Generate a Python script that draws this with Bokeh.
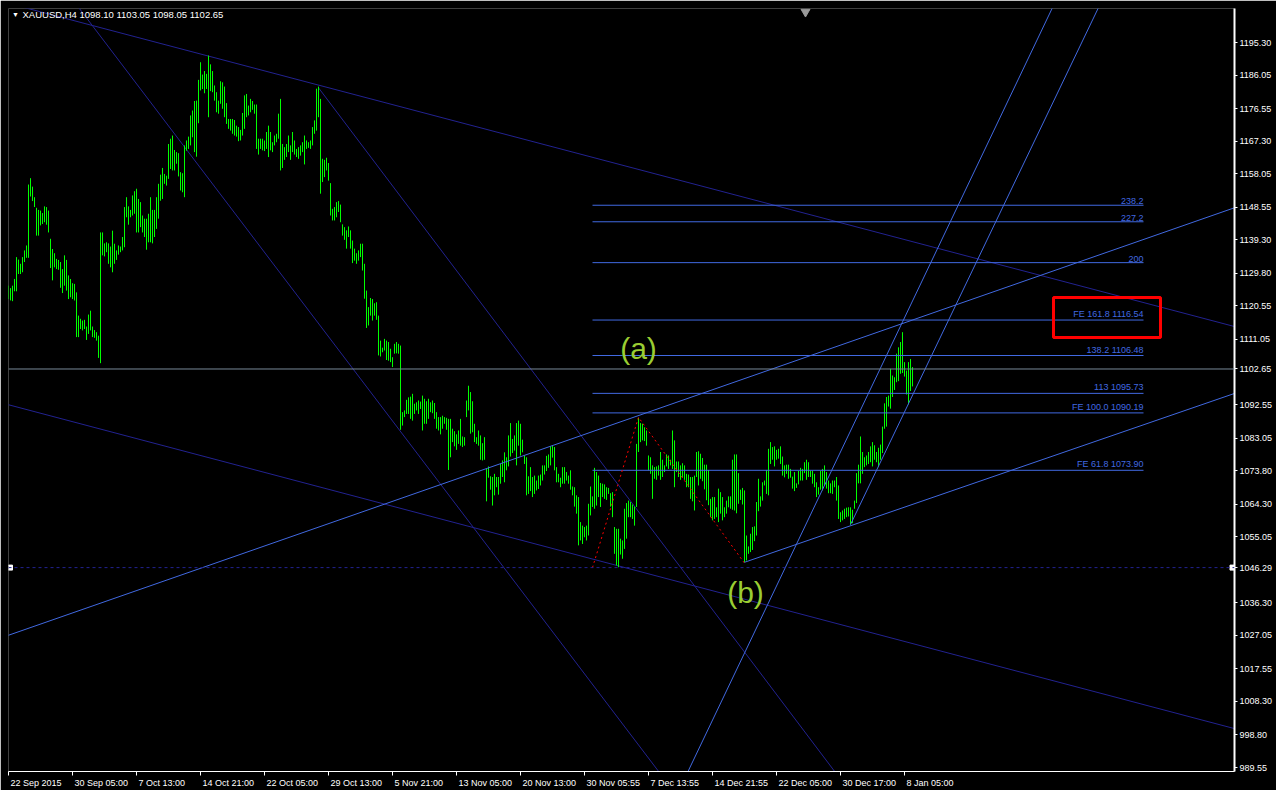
from bokeh.plotting import figure
from bokeh.models import (Range1d, FixedTicker, Label, NumeralTickFormatter, ColumnDataSource,
                          Span, LinearAxis)
from bokeh.embed import file_html
from bokeh.resources import INLINE

# ---------------- data ----------------
symbol = "XAUUSD,H4"
last_ohlc = [1098.10, 1103.05, 1098.05, 1102.65]
bid_price = 1102.65
marked_price = 1046.29

highs = [
    1126.3, 1125.6, 1126.3, 1128.2, 1134.4, 1133.7, 1132.5, 1134.4, 1136.3, 1137.7,
    1155.0, 1156.8, 1154.4, 1151.4, 1148.4, 1147.8, 1147.6, 1146.9, 1148.8, 1148.6,
    1147.6, 1139.6, 1136.7, 1135.5, 1133.9, 1133.6, 1133.0, 1131.0, 1134.9, 1133.6,
    1129.2, 1128.2, 1127.0, 1126.8, 1124.4, 1117.8, 1116.9, 1116.4, 1116.6, 1114.7,
    1118.1, 1119.2, 1114.7, 1113.7, 1113.1, 1112.1, 1141.4, 1141.4, 1138.3, 1138.6,
    1138.3, 1137.4, 1141.9, 1138.2, 1136.3, 1137.7, 1137.4, 1140.1, 1148.6, 1151.4,
    1148.8, 1147.8, 1151.9, 1153.1, 1153.8, 1150.9, 1150.0, 1146.2, 1145.3, 1145.3,
    1146.7, 1151.4, 1147.8, 1147.8, 1151.4, 1155.2, 1157.8, 1159.7, 1158.0, 1157.5,
    1166.5, 1168.0, 1168.9, 1164.8, 1164.2, 1163.9, 1158.5, 1158.2, 1166.1, 1167.5,
    1168.6, 1174.6, 1176.0, 1178.7, 1178.8, 1184.7, 1189.7, 1186.2, 1187.2, 1186.4,
    1191.6, 1189.1, 1187.2, 1183.1, 1181.2, 1178.8, 1184.3, 1184.0, 1182.8, 1178.1,
    1173.6, 1173.6, 1173.6, 1173.3, 1171.7, 1171.3,
    1170.5, 1175.3, 1180.3, 1180.7,
    1177.4, 1179.3, 1178.7, 1177.7, 1177.7, 1168.0, 1168.0, 1168.0, 1167.5, 1169.9,
    1171.7, 1169.9, 1167.0, 1168.9, 1169.4, 1175.1, 1179.3, 1166.5, 1165.6, 1166.5,
    1168.9, 1166.1, 1169.9, 1167.5, 1165.1, 1165.6, 1166.1, 1167.0, 1168.9, 1167.5,
    1167.0, 1167.5, 1171.3, 1173.2, 1182.2, 1182.8, 1179.3, 1162.3, 1162.0, 1162.6,
    1161.1, 1155.4, 1148.1, 1148.6, 1150.0, 1150.3, 1149.3, 1143.7, 1142.9, 1142.0,
    1143.1, 1142.0, 1139.1, 1136.8, 1135.5, 1136.3, 1138.2, 1138.2, 1132.5, 1124.9,
    1120.2, 1122.8, 1122.5, 1121.3, 1121.6, 1117.8, 1110.7, 1108.7, 1111.2, 1110.7,
    1110.3, 1108.4, 1106.0, 1109.8, 1110.3, 1109.8, 1109.3, 1090.4, 1090.9, 1093.9,
    1094.6, 1094.8, 1095.6, 1092.8, 1093.2, 1093.7, 1093.4, 1095.1, 1094.2, 1093.5,
    1094.2, 1093.2, 1093.7, 1093.0, 1090.4, 1089.0, 1089.0, 1089.4, 1089.0, 1088.8,
    1088.5, 1088.5, 1085.7, 1085.0, 1084.1, 1085.2, 1088.5, 1083.5, 1083.3, 1093.7, 1097.9,
    1096.1, 1093.5, 1087.1, 1083.3, 1085.2, 1083.8, 1081.6, 1083.3, 1074.3, 1075.0,
    1072.2, 1072.0, 1072.9, 1072.0, 1072.0, 1075.7, 1076.7, 1079.0, 1077.6, 1083.8,
    1087.3, 1082.8, 1083.8, 1087.3, 1088.0, 1087.1, 1082.6, 1078.1, 1077.6, 1072.2,
    1074.8, 1072.0, 1072.4, 1071.0, 1072.4, 1072.7, 1075.3, 1075.3, 1078.0, 1078.4,
    1080.7, 1080.9, 1080.5, 1074.8, 1072.9, 1071.8, 1074.8, 1074.8, 1073.4, 1072.4,
    1073.9, 1069.3, 1069.1, 1066.8, 1066.3, 1059.2, 1058.2, 1057.8, 1058.2, 1064.4,
    1069.3, 1066.5, 1074.6, 1073.4, 1072.4, 1070.3, 1070.1, 1069.9, 1069.1, 1068.9,
    1067.4, 1067.7, 1057.8, 1057.3, 1057.3, 1054.5, 1054.0, 1063.0, 1064.6, 1065.3,
    1064.9, 1064.2, 1063.6, 1081.4, 1088.8, 1087.3, 1087.1, 1086.1, 1085.2, 1078.1,
    1077.6, 1075.3, 1074.8, 1075.0, 1075.3, 1079.1, 1076.9, 1075.3, 1078.4, 1078.1,
    1076.9, 1085.2, 1082.4, 1076.4, 1076.4, 1075.3, 1075.9, 1075.3, 1072.9, 1072.7,
    1072.0, 1072.0, 1072.4, 1079.1, 1079.3, 1078.6, 1077.4, 1075.5, 1075.5, 1074.0,
    1065.8, 1066.3, 1066.3, 1063.4, 1068.7, 1067.7, 1066.3, 1063.4, 1065.3, 1066.5,
    1066.5, 1076.9, 1078.4, 1078.4, 1073.1, 1068.4, 1068.9, 1068.2, 1055.4, 1052.3,
    1055.9, 1057.8, 1058.0, 1064.9, 1071.5, 1066.5, 1070.5, 1071.0, 1074.0, 1080.0,
    1081.9, 1080.5, 1080.7, 1079.7, 1080.0, 1080.7, 1077.8, 1075.3, 1075.5, 1075.5,
    1074.3, 1072.1, 1073.4, 1070.2, 1073.7, 1074.6, 1074.3, 1076.2, 1076.9, 1076.2,
    1073.8, 1073.8, 1072.9, 1070.5, 1069.1, 1073.7, 1074.3, 1075.3, 1073.4, 1071.0,
    1070.2, 1071.0, 1071.0, 1072.0, 1069.6, 1062.0, 1062.5, 1063.0, 1063.3, 1063.4,
    1063.4, 1062.7, 1065.3, 1073.1, 1075.5, 1083.5, 1079.1, 1077.6, 1078.1, 1079.1,
    1080.7, 1081.9, 1081.0, 1079.1, 1080.3, 1081.2, 1086.3, 1092.9, 1094.7, 1095.1,
    1102.7, 1100.8, 1100.3, 1107.0, 1108.8, 1110.3, 1113.1, 1104.6, 1102.2, 1104.6, 1105.5, 1103.2,
]

lows = [
    1122.5, 1122.1, 1121.9, 1124.7, 1124.7, 1129.6, 1129.6, 1130.1, 1133.0, 1134.2,
    1134.2, 1151.6, 1150.3, 1148.6, 1140.5, 1140.5, 1143.4, 1143.8, 1144.3, 1143.6,
    1141.4, 1131.3, 1127.8, 1131.5, 1131.0, 1130.8, 1125.7, 1124.2, 1126.3, 1124.9,
    1122.5, 1123.0, 1122.5, 1122.1, 1111.7, 1111.7, 1114.0, 1113.6, 1114.0, 1110.9,
    1112.6, 1113.6, 1111.7, 1111.5, 1110.7, 1105.8, 1104.3, 1134.9, 1134.6, 1135.8,
    1132.5, 1131.5, 1130.1, 1132.5, 1133.6, 1135.1, 1135.8, 1136.3, 1137.2, 1145.7,
    1143.6, 1145.7, 1146.2, 1146.7, 1141.4, 1141.4, 1142.9, 1141.4, 1140.1, 1136.5,
    1138.6, 1138.6, 1138.3, 1140.1, 1142.4, 1145.3, 1150.4, 1150.9, 1155.2, 1154.7,
    1156.6, 1159.4, 1159.0, 1159.0, 1160.9, 1157.3, 1153.3, 1152.8, 1151.4, 1164.6,
    1165.1, 1166.1, 1168.4, 1164.2, 1162.9, 1172.4, 1181.7, 1182.1, 1180.9, 1182.1,
    1174.1, 1181.5, 1181.2, 1178.8, 1175.5, 1175.1, 1177.9, 1176.5, 1174.1, 1172.2,
    1170.8, 1170.3, 1169.4, 1168.9, 1168.6, 1167.3,
    1167.5, 1168.9, 1170.8, 1174.1,
    1174.6, 1175.5, 1176.2, 1175.1, 1165.1, 1163.5, 1165.1, 1164.7, 1164.5, 1165.1,
    1162.8, 1164.7, 1164.2, 1166.1, 1167.0, 1168.0, 1159.0, 1159.7, 1162.0, 1162.8,
    1164.2, 1162.0, 1164.2, 1163.5, 1162.8, 1162.3, 1163.2, 1164.2, 1160.7, 1165.1,
    1165.4, 1165.1, 1166.1, 1169.4, 1170.3, 1174.1, 1152.4, 1155.7, 1157.1, 1159.0,
    1156.1, 1146.2, 1144.8, 1144.8, 1145.7, 1147.2, 1144.3, 1140.5, 1139.3, 1136.8,
    1140.1, 1136.8, 1132.7, 1133.4, 1132.5, 1133.4, 1134.4, 1130.6, 1122.6, 1114.3,
    1115.0, 1117.8, 1116.4, 1117.8, 1116.6, 1106.5, 1106.2, 1107.4, 1107.9, 1105.2,
    1105.0, 1104.6, 1103.2, 1107.0, 1107.1, 1107.0, 1085.4, 1086.6, 1089.0, 1089.9,
    1089.9, 1088.5, 1088.0, 1089.9, 1090.9, 1089.9, 1091.3, 1085.2, 1087.1, 1087.1,
    1088.5, 1090.4, 1090.1, 1088.5, 1085.7, 1085.2, 1084.1, 1085.7, 1087.1, 1085.4,
    1074.0, 1077.6, 1081.9, 1080.7, 1079.7, 1081.4, 1080.9, 1080.5, 1080.9, 1089.0, 1090.9,
    1084.3, 1084.7, 1081.9, 1081.4, 1080.9, 1076.9, 1076.7, 1076.9, 1065.1, 1071.8,
    1068.4, 1063.9, 1066.8, 1069.1, 1067.0, 1070.1, 1072.0, 1070.5, 1073.9, 1075.0,
    1077.8, 1078.8, 1079.5, 1075.3, 1080.9, 1078.1, 1079.0, 1075.7, 1066.8, 1067.2,
    1068.0, 1066.3, 1067.2, 1068.2, 1068.6, 1069.6, 1071.0, 1072.7, 1073.7, 1074.6,
    1075.3, 1077.5, 1073.9, 1070.5, 1070.5, 1069.1, 1070.1, 1070.1, 1071.0, 1070.1,
    1068.4, 1066.8, 1063.6, 1061.6, 1052.6, 1054.0, 1053.0, 1054.9, 1054.0, 1055.4,
    1061.1, 1063.5, 1063.0, 1063.9, 1066.3, 1063.5, 1066.3, 1065.8, 1065.5, 1067.2,
    1063.6, 1060.6, 1050.2, 1046.9, 1046.4, 1050.0, 1048.8, 1051.6, 1054.5, 1060.6,
    1060.6, 1060.1, 1058.2, 1063.5, 1079.1, 1081.9, 1082.4, 1082.2, 1080.9, 1073.9,
    1072.9, 1065.8, 1071.5, 1071.2, 1072.4, 1071.2, 1072.0, 1073.4, 1075.0, 1074.3,
    1075.3, 1074.3, 1069.1, 1073.4, 1072.0, 1071.2, 1071.8, 1071.2, 1069.1, 1069.1,
    1065.8, 1065.1, 1062.5, 1072.0, 1069.6, 1071.5, 1070.8, 1068.5, 1065.4, 1064.0,
    1060.6, 1059.7, 1060.1, 1060.6, 1059.2, 1061.6, 1059.7, 1060.6, 1061.6, 1063.4,
    1063.0, 1062.7, 1062.5, 1061.7, 1064.4, 1065.5, 1064.2, 1047.8, 1048.3, 1050.2,
    1050.7, 1051.3, 1053.8, 1055.4, 1062.3, 1063.6, 1065.3, 1069.6, 1067.2, 1066.8,
    1075.7, 1076.9, 1075.0, 1076.9, 1077.2, 1075.7, 1072.4, 1071.9, 1072.9, 1071.5,
    1071.8, 1068.7, 1068.0, 1068.9, 1069.9, 1071.0, 1071.0, 1073.1, 1071.2, 1072.0,
    1072.0, 1070.1, 1069.1, 1066.3, 1067.0, 1068.4, 1068.2, 1069.6, 1068.7, 1067.4,
    1067.4, 1067.2, 1069.1, 1065.3, 1060.1, 1059.2, 1059.7, 1060.1, 1060.6, 1060.8,
    1058.5, 1058.9, 1063.0, 1064.6, 1070.2, 1070.2, 1072.9, 1074.8, 1075.3, 1075.7,
    1076.2, 1075.0, 1076.9, 1076.2, 1074.8, 1076.9, 1078.8, 1085.7, 1086.3, 1092.0,
    1091.4, 1094.7, 1096.7, 1098.9, 1099.2, 1101.3, 1101.5, 1100.5, 1095.4, 1092.6, 1096.4, 1097.7,
]

date_ticks = [0, 32, 64, 96, 128, 160, 192, 224, 256, 288, 320, 352, 384, 416, 448]
date_labels = ["22 Sep 2015", "30 Sep 05:00", "7 Oct 13:00", "14 Oct 21:00", "22 Oct 05:00",
               "29 Oct 13:00", "5 Nov 21:00", "13 Nov 05:00", "20 Nov 13:00", "30 Nov 05:55",
               "7 Dec 13:55", "14 Dec 21:55", "22 Dec 05:00", "30 Dec 17:00", "8 Jan 05:00"]
price_ticks = [1195.30, 1186.05, 1176.55, 1167.30, 1158.05, 1148.55, 1139.30, 1129.80,
               1120.55, 1111.05, 1102.65, 1092.55, 1083.05, 1073.80, 1064.30, 1055.05,
               1046.29, 1036.30, 1027.05, 1017.55, 1008.30, 998.80, 989.55]

# Fibonacci expansion: points A, B, C (bar index, price)
fe_bar = [292, 315, 368]
fe_price = [1046.29, 1088.93, 1047.55]
fe_end_bar = 567.5
fe_levels = [238.2, 227.2, 200.0, 161.8, 138.2, 113.0, 100.0, 61.8]
fe_texts = ["238.2", "227.2", "200", "FE 161.8 1116.54", "138.2 1106.48",
            "113 1095.73", "FE 100.0 1090.19", "FE 61.8 1073.90"]

# trend lines (bar index, price) pairs
navy_x0 = [-4, -2, 33.5, 155]
navy_y0 = [1207.0, 1092.8, 1206.4, 1182.45]
navy_x1 = [615, 615, 327, 415]
navy_y1 = [1114.4, 1000.3, 987.0, 987.0]

blue_x0 = [-2, 368, 338, 421]
blue_y0 = [1026.7, 1047.8, 986.35, 1058.5]
blue_x1 = [616, 616, 523, 546]
blue_y1 = [1149.0, 1096.3, 1206.4, 1206.4]

wave_labels = ["(a)", "(b)"]
wave_bar = [315, 368.5]
wave_price = [1108.47, 1039.23]

box_bar = [522.5, 576]
box_price = [1111.59, 1122.94]

# ---------------- styling ----------------
FONT = "Liberation Sans"
FONT_PX = 9
NAVY = "#222290"
BLUE = "#4169E1"
GREEN = "#00FF00"
# Arial / Liberation Sans advance widths (1/1000 em), used to left-align date labels
ADV = {" ": 278, ":": 278, "S": 667, "e": 556, "p": 556, "O": 778, "c": 500, "t": 278,
       "N": 722, "o": 556, "v": 500, "D": 722, "J": 500, "a": 556, "n": 556}


def text_px(s):
    return sum(ADV.get(ch, 556) for ch in s) * FONT_PX / 1000.0


x_start = 0.0
frame_w = 1226
p = figure(frame_width=frame_w, frame_height=763,
           x_range=Range1d(x_start, x_start + frame_w / 2),
           y_range=Range1d(988.43, 1204.95),
           output_backend="svg", toolbar_location=None,
           y_axis_location="right",
           min_border_left=8, min_border_top=8, min_border_right=42, min_border_bottom=4,
           background_fill_color="black", border_fill_color="black",
           outline_line_color=None)
p.grid.visible = False

# right price axis
p.yaxis.ticker = FixedTicker(ticks=price_ticks)
p.yaxis.formatter = NumeralTickFormatter(format="0.00")
p.yaxis.axis_line_color = "white"
p.yaxis.axis_line_width = 2
p.yaxis.major_tick_line_color = "white"
p.yaxis.major_tick_out = 3
p.yaxis.major_tick_in = 0
p.yaxis.minor_tick_line_color = None
p.yaxis.major_label_text_color = "white"
p.yaxis.major_label_text_font = FONT
p.yaxis.major_label_text_font_size = "%dpx" % FONT_PX
p.yaxis.major_label_standoff = 2

# bottom time axis: tick marks
p.xaxis.ticker = FixedTicker(ticks=date_ticks)
p.xaxis.major_label_overrides = {t: "" for t in date_ticks}
p.xaxis.major_label_text_font_size = "0px"
p.xaxis.major_label_standoff = 0
p.xaxis.axis_line_color = "white"
p.xaxis.major_tick_line_color = "white"
p.xaxis.major_tick_out = 4
p.xaxis.major_tick_in = 0
p.xaxis.minor_tick_line_color = None

# bottom time axis: labels, placed to the right of each tick like MetaTrader
label_pos = [round(t + 1 + text_px(lab) / 4.0, 3) for t, lab in zip(date_ticks, date_labels)]
lab_axis = LinearAxis(ticker=FixedTicker(ticks=label_pos),
                      major_label_overrides={pos: lab for pos, lab in zip(label_pos, date_labels)},
                      axis_line_color=None, major_tick_line_color=None, minor_tick_line_color=None,
                      major_tick_out=0, major_tick_in=0, major_label_standoff=2,
                      major_label_text_color="white", major_label_text_font=FONT,
                      major_label_text_font_size="%dpx" % FONT_PX)
p.add_layout(lab_axis, "below")

# lines behind bars
p.segment(x0=navy_x0, y0=navy_y0, x1=navy_x1, y1=navy_y1, line_color=NAVY, line_width=1)

p.add_layout(Span(location=bid_price, dimension="width", line_color="#778899", line_width=1))
p.add_layout(Span(location=marked_price, dimension="width", line_color=NAVY, line_width=1,
                  line_dash="3 3"))

# price bars
n = min(len(highs), len(lows))
src = ColumnDataSource(dict(x=list(range(n)), high=highs[:n], low=lows[:n]))
p.segment(x0="x", y0="low", x1="x", y1="high", source=src, line_color=GREEN, line_width=1)

# fibonacci expansion
rng = fe_price[1] - fe_price[0]
fe_vals = [fe_price[2] + lv / 100.0 * rng for lv in fe_levels]
p.segment(x0=[fe_bar[0]] * len(fe_vals), y0=fe_vals, x1=[fe_end_bar] * len(fe_vals), y1=fe_vals,
          line_color=BLUE, line_width=1)
for v, t in zip(fe_vals, fe_texts):
    p.add_layout(Label(x=fe_end_bar, y=v, text=t, text_align="right", text_baseline="bottom",
                       y_offset=1, text_color=BLUE, text_font=FONT, text_font_size="%dpx" % FONT_PX))

p.line(x=fe_bar, y=fe_price, line_color="#FF0000", line_width=1, line_dash="2 3")

# blue trend lines
p.segment(x0=blue_x0, y0=blue_y0, x1=blue_x1, y1=blue_y1, line_color=BLUE, line_width=1)

# red highlight box
p.quad(left=[box_bar[0]], right=[box_bar[1]], bottom=[box_price[0]], top=[box_price[1]],
       fill_color=None, line_color="#FF0000", line_width=3)

# wave labels
for t, bx, py in zip(wave_labels, wave_bar, wave_price):
    p.add_layout(Label(x=bx, y=py, text=t, text_align="center", text_baseline="middle",
                       text_color="#9ACD32", text_font=FONT, text_font_size="30px"))

# selection handles of the marked line, chart-shift marker
p.scatter(x=[0.75, x_start + frame_w / 2 - 1], y=[marked_price, marked_price], marker="square",
          size=5, fill_color="white", line_color="white")
p.scatter(x=[398.5], y=[1204.0], marker="inverted_triangle", size=9,
          fill_color="#9a9a9a", line_color="#9a9a9a")

# title
title_text = "%s  %s" % (symbol, " ".join("%.2f" % v for v in last_ohlc))
p.add_layout(Label(x=1.75, y=1203.2, text="\u25bc", text_align="left", text_baseline="middle",
                   text_color="white", text_font=FONT, text_font_size="7px"))
p.add_layout(Label(x=7, y=1203.2, text=title_text, text_align="left", text_baseline="middle",
                   text_color="white", text_font=FONT, text_font_size="9.5px"))

html = file_html(p, INLINE, title="XAUUSD,H4")
open("out.html", "w").write(html)
